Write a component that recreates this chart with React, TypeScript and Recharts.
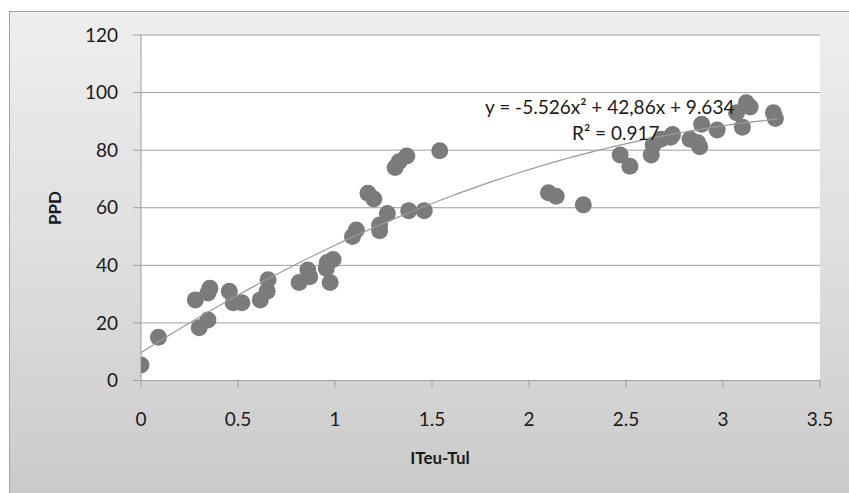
import React from 'react';
import { ScatterChart, Scatter, XAxis, YAxis, CartesianGrid } from 'recharts';

const xValues = [
  0, 0.09, 0.3, 0.345, 0.28, 0.355, 0.345, 0.455, 0.475, 0.52, 0.615, 0.65, 0.655,
  0.815, 0.86, 0.87, 0.975, 0.96, 0.99, 0.955, 1.09, 1.11, 1.17, 1.2, 1.27, 1.23, 1.23,
  1.31, 1.33, 1.37, 1.38, 1.46, 1.54, 2.1, 2.14, 2.28, 2.47, 2.52, 2.63, 2.64, 2.68,
  2.73, 2.74, 2.83, 2.87, 2.88, 2.89, 2.97, 3.07, 3.1, 3.12, 3.14, 3.26, 3.27,
];
const yValues = [
  5.4, 15, 18.3, 21, 28, 32, 30.4, 31, 27, 27, 28, 31, 35,
  34, 38.4, 36, 34, 41, 42, 39, 50, 52.3, 65, 63, 58, 54, 52,
  74, 76, 78, 59, 59, 79.8, 65.2, 64, 61, 78.3, 74.4, 78.3, 81.8, 83.8,
  84.5, 85.4, 83.8, 82.6, 81.2, 89, 87, 93, 88, 96.5, 95, 93, 91,
];
const xTicks = [0, 0.5, 1, 1.5, 2, 2.5, 3, 3.5];
const yTicks = [0, 20, 40, 60, 80, 100, 120];

// Displayed polynomial trendline coefficients (y = a x^2 + b x + c)
const trendA = -5.526;
const trendB = 42.86;
const trendC = 9.634;
const trendXMax = 3.28;
const equationText = 'y = -5.526x² + 42,86x + 9.634';
const r2Text = 'R² = 0.917';
const xTitle = 'ITeu-Tul';
const yTitle = 'PPD';

const points = xValues.map((x, i) => ({ x, y: yValues[i] }));
const trendPoints: { x: number; y: number }[] = [];
for (let i = 0; i <= 82; i++) {
  const x = (trendXMax * i) / 82;
  trendPoints.push({ x, y: trendA * x * x + trendB * x + trendC });
}

const FONT = 'Lato, "Open Sans", sans-serif';

const Dot = (props: any) => {
  const { cx, cy } = props;
  if (cx == null || cy == null) return null;
  return <circle cx={cx} cy={cy} r={8.5} fill="#7b7b7b" />;
};

export default function App() {
  return (
    <div style={{ position: 'fixed', left: 0, top: 0, width: 849, height: 493, overflow: 'hidden', fontFamily: FONT }}>
      <div
        style={{
          position: 'absolute',
          left: 9,
          top: 11,
          width: 860,
          height: 500,
          borderLeft: '1.5px solid #a3a3a3',
          borderTop: '1.5px solid #a3a3a3',
          background: 'linear-gradient(to bottom, #eeeeee 0%, #dedede 50%, #c9c9c9 100%)',
          boxSizing: 'border-box',
        }}
      />
      <div style={{ position: 'absolute', left: 0, top: 0 }}>
        <ScatterChart width={849} height={493} margin={{ top: 35, right: 29, bottom: 0, left: 0 }}>
          <CartesianGrid horizontal vertical={false} stroke="#9e9e9e" fill="#ffffff" />
          <XAxis
            type="number"
            dataKey="x"
            domain={[0, 3.5]}
            ticks={xTicks}
            allowDataOverflow
            height={112.5}
            stroke="#9e9e9e"
            tickSize={7}
            tickMargin={25}
            tick={{ fill: '#1a1a1a', fontSize: 19, fontFamily: FONT }}
          />
          <YAxis
            type="number"
            dataKey="y"
            domain={[0, 120]}
            ticks={yTicks}
            allowDataOverflow
            width={141}
            stroke="#9e9e9e"
            tickSize={8}
            tickMargin={15}
            tick={{ fill: '#1a1a1a', fontSize: 19, fontFamily: FONT }}
          />
          <Scatter data={points} shape={<Dot />} isAnimationActive={false} />
          <Scatter
            data={trendPoints}
            line={{ stroke: '#9a9a9a', strokeWidth: 1.2 }}
            lineType="joint"
            shape={() => null}
            isAnimationActive={false}
          />
        </ScatterChart>
      </div>
      <div style={{ position: 'absolute', left: 485, top: 96, fontSize: 19, color: '#1a1a1a', whiteSpace: 'nowrap', lineHeight: '22px' }}>
        {equationText}
      </div>
      <div style={{ position: 'absolute', left: 572, top: 122, fontSize: 19, color: '#1a1a1a', whiteSpace: 'nowrap', lineHeight: '22px' }}>
        {r2Text}
      </div>
      <div style={{ position: 'absolute', left: 440, top: 457, transform: 'translate(-50%, -50%)', fontSize: 17, fontWeight: 'bold', color: '#1a1a1a', whiteSpace: 'nowrap' }}>
        {xTitle}
      </div>
      <div style={{ position: 'absolute', left: 54, top: 208, transform: 'translate(-50%, -50%) rotate(-90deg)', fontSize: 17, fontWeight: 'bold', color: '#1a1a1a', whiteSpace: 'nowrap' }}>
        {yTitle}
      </div>
    </div>
  );
}
